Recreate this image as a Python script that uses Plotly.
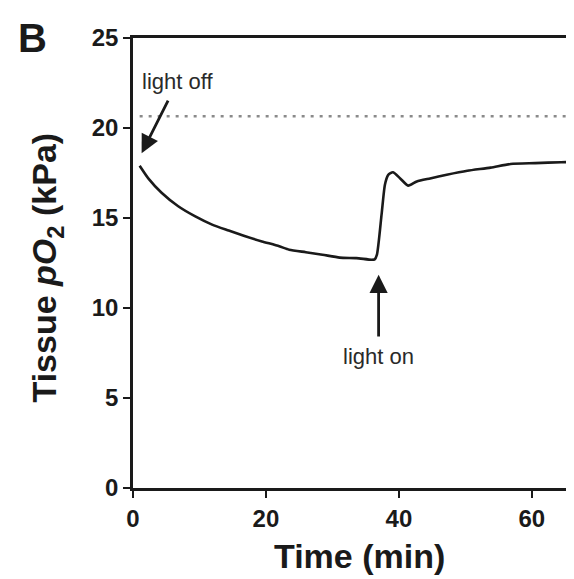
import plotly.graph_objects as go

# Trace: tissue pO2 over time
time_min = [1.0, 2.3, 4.3, 6.8, 9.3, 11.9, 14.4, 16.9, 19.4, 22.0, 23.5, 26.0, 28.5,
            31.1, 33.6, 35.9, 36.36, 36.7, 37.4, 37.9, 38.4, 39.1, 40.2, 41.4, 42.7,
            44.7, 47.2, 50.3, 53.8, 56.8, 60.5, 64.4, 67.4]
po2_kpa = [17.9, 17.2, 16.4, 15.65, 15.1, 14.63, 14.3, 13.98, 13.7, 13.43, 13.24, 13.1, 12.96,
           12.8, 12.77, 12.68, 12.7, 12.96, 15.2, 16.85, 17.4, 17.54, 17.2, 16.8, 17.03,
           17.2, 17.4, 17.62, 17.8, 18.0, 18.05, 18.1, 18.12]

# Atmospheric reference level (dotted line)
ref_level = 20.65
ref_x = [1.0, 67.4]

x_ticks = [0, 20, 40, 60]
y_ticks = [0, 5, 10, 15, 20, 25]
x_range = [0, 67.4]
y_range = [0, 25]

# Annotations: label, text position, arrow head
light_off = dict(text="light off", tx=6.74, ty=22.6, head=(1.3, 18.6))
light_on = dict(text="light on", tx=36.95, ty=7.3, head=(36.95, 11.85))

FONT = "Liberation Sans, Arial, sans-serif"
INK = "#1a1a1a"

fig = go.Figure()
fig.add_trace(go.Scatter(x=ref_x, y=[ref_level, ref_level], mode="lines",
                         line=dict(color="#8a8a8a", width=2.6, dash="3px,6px"),
                         hoverinfo="skip", showlegend=False))
fig.add_trace(go.Scatter(x=time_min, y=po2_kpa, mode="lines",
                         line=dict(color=INK, width=2.6, shape="spline", smoothing=0.6),
                         showlegend=False))

annotations = []
for a in (light_off, light_on):
    annotations.append(dict(x=a["head"][0], y=a["head"][1], ax=a["tx"], ay=a["ty"],
                            xref="x", yref="y", axref="x", ayref="y", text=a["text"],
                            showarrow=True, arrowhead=2, arrowsize=1.3, arrowwidth=2.8,
                            arrowcolor=INK, startstandoff=6,
                            font=dict(family=FONT, size=22, color="#2a2a2a")))

annotations += [
    dict(x=-0.2247, y=1.0, xref="paper", yref="paper", text="<b>B</b>", showarrow=False,
         font=dict(family=FONT, size=40, color=INK), xanchor="center", yanchor="middle"),
    dict(x=-0.192, y=0.49, xref="paper", yref="paper", textangle=-90,
         text="<b>Tissue <i>pO</i><sub>2</sub> (kPa)</b>", showarrow=False,
         font=dict(family=FONT, size=34, color=INK), xanchor="center", yanchor="middle"),
    dict(x=0.506, y=-0.152, xref="paper", yref="paper", text="<b>Time (min)</b>",
         showarrow=False, font=dict(family=FONT, size=34, color=INK),
         xanchor="center", yanchor="middle"),
]

fig.update_layout(
    width=574, height=579,
    margin=dict(l=125, r=1, t=30, b=99),
    paper_bgcolor="white", plot_bgcolor="white",
    annotations=annotations,
    shapes=[dict(type="line", xref="paper", yref="paper", x0=1, x1=1, y0=0, y1=1,
                 line=dict(color="#bbbbbb", width=1))],
)
fig.update_xaxes(range=x_range, tickvals=x_ticks, ticktext=[f"<b>{v}</b>" for v in x_ticks],
                 showline=True, linewidth=2.6, linecolor=INK, mirror=True,
                 ticks="outside", ticklen=7, tickwidth=2.2, tickcolor=INK,
                 showgrid=False, zeroline=False,
                 tickfont=dict(family=FONT, size=24, color=INK))
fig.update_yaxes(range=y_range, tickvals=y_ticks, ticktext=[f"<b>{v}</b>" for v in y_ticks],
                 showline=True, linewidth=2.6, linecolor=INK, mirror=False,
                 ticks="outside", ticklen=7, tickwidth=2.2, tickcolor=INK,
                 showgrid=False, zeroline=False,
                 tickfont=dict(family=FONT, size=24, color=INK))

fig.write_html("out.html")
